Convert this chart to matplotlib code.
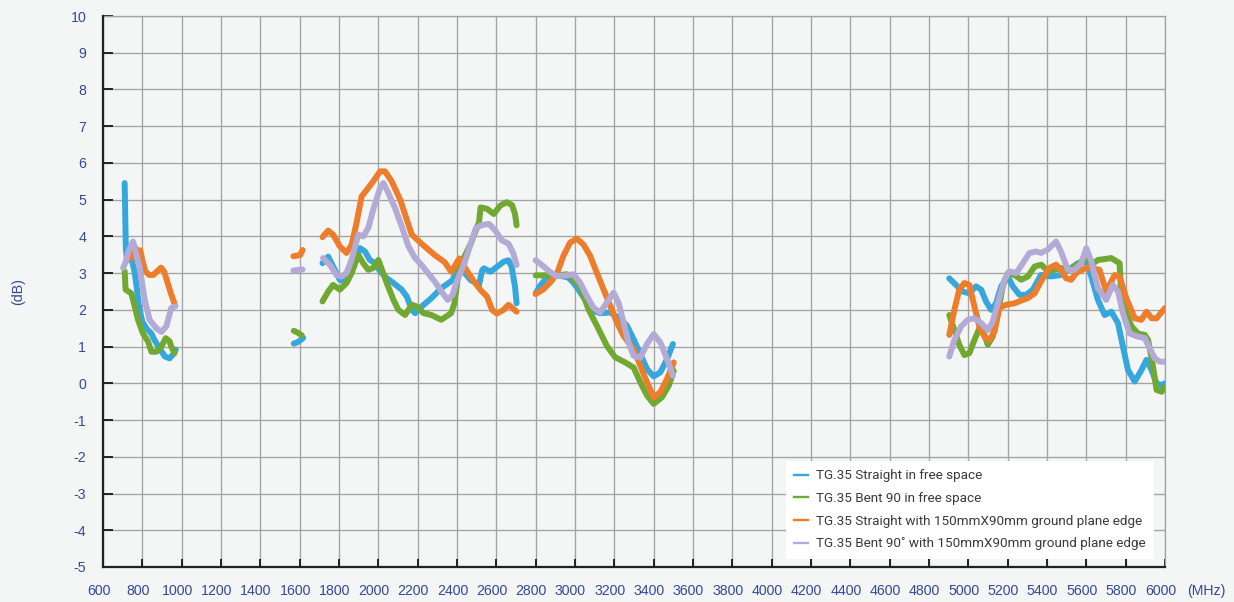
import numpy as np
import matplotlib
matplotlib.use("Agg")
import matplotlib.pyplot as plt
from matplotlib.transforms import ScaledTranslation

plt.rcParams["axes.unicode_minus"] = False
N = np.nan

# ---- data (MHz, dB); NaN separates measurement bands ----
blue_x = [710, 713, 716, 722, 732, 745, 760, 772, 784, 800, 820, 845, 865, 882, 900, 915, 938, 958, 970, N,
          1570, 1590, 1605, 1618, N,
          1716, 1745, 1770, 1804, 1830, 1855, 1881, 1906, 1932, 1957, 1983, 2009, 2043, 2077, 2119, 2145, 2170, 2187,
          2220, 2270, 2320, 2378, 2395, 2420, 2470, 2512, 2528, 2537, 2570, 2603, 2637, 2662, 2678, 2695, 2703, N,
          2800, 2822, 2856, 2890, 2932, 2966, 2990, 3017, 3060, 3094, 3128, 3179, 3221, 3264, 3298, 3332, 3366, 3400,
          3434, 3468, 3498, N,
          4903, 4937, 4971, 5005, 5039, 5065, 5090, 5116, 5141, 5167, 5201, 5226, 5260, 5294, 5328, 5369, 5420, 5471,
          5523, 5557, 5600, 5625, 5659, 5693, 5727, 5761, 5786, 5812, 5846, 5880, 5906, 5932, 5957, 5980, 6000]
blue_y = [5.45, 4.6, 3.7, 3.35, 3.5, 3.4, 3.05, 2.6, 2.05, 1.68, 1.5, 1.36, 1.15, 1.0, 0.85, 0.73, 0.68, 0.8, 0.92, N,
          1.08, 1.12, 1.18, 1.24, N,
          3.27, 3.45, 3.18, 2.82, 2.77, 2.95, 3.36, 3.68, 3.59, 3.36, 3.27, 3.05, 2.86, 2.73, 2.55, 2.36, 2.0, 1.91,
          2.09, 2.32, 2.59, 2.81, 3.04, 3.13, 2.81, 2.68, 3.08, 3.13, 3.04, 3.17, 3.31, 3.35, 3.17, 2.63, 2.18, N,
          2.45, 2.65, 2.88, 2.97, 2.92, 2.88, 2.75, 2.56, 2.2, 1.97, 1.91, 1.93, 1.79, 1.57, 1.2, 0.8, 0.39, 0.19,
          0.3, 0.66, 1.07, N,
          2.86, 2.68, 2.5, 2.45, 2.64, 2.55, 2.23, 2.0, 2.18, 2.64, 2.91, 2.64, 2.41, 2.41, 2.55, 2.95, 2.91, 2.95,
          3.14, 3.27, 3.32, 2.91, 2.27, 1.86, 1.95, 1.64, 1.0, 0.36, 0.05, 0.36, 0.64, 0.36, 0.0, -0.05, 0.0]

green_x = [710, 715, 744, 761, 778, 803, 829, 846, 871, 897, 919, 939, 947, 964, N,
           1570, 1590, 1610, N,
           1716, 1745, 1770, 1804, 1838, 1864, 1898, 1923, 1949, 1974, 2000, 2043, 2077, 2102, 2136, 2170, 2196, 2230,
           2270, 2320, 2370, 2387, 2412, 2470, 2512, 2520, 2553, 2587, 2620, 2653, 2680, 2695, 2703, N,
           2800, 2848, 2916, 2958, 3000, 3026, 3068, 3111, 3162, 3204, 3255, 3298, 3332, 3366, 3400, 3442, 3477, 3502, N,
           4903, 4929, 4954, 4980, 5005, 5031, 5056, 5082, 5099, 5124, 5150, 5175, 5201, 5235, 5269, 5303, 5337, 5371,
           5405, 5439, 5473, 5507, 5541, 5575, 5600, 5626, 5659, 5690, 5727, 5769, 5778, 5804, 5830, 5864, 5897, 5914,
           5935, 5957, 5983, 6000]
green_y = [3.05, 2.55, 2.45, 2.1, 1.73, 1.36, 1.14, 0.86, 0.86, 1.0, 1.23, 1.14, 1.0, 0.82, N,
           1.43, 1.38, 1.31, N,
           2.23, 2.5, 2.68, 2.55, 2.73, 3.0, 3.5, 3.27, 3.09, 3.14, 3.36, 2.73, 2.27, 2.0, 1.86, 2.14, 2.09, 1.91,
           1.86, 1.73, 1.91, 2.18, 3.17, 3.8, 4.39, 4.79, 4.75, 4.61, 4.84, 4.93, 4.85, 4.61, 4.3, N,
           2.94, 2.94, 2.94, 2.97, 2.79, 2.65, 2.02, 1.57, 1.02, 0.71, 0.57, 0.43, 0.03, -0.33, -0.56, -0.38, -0.06, 0.34, N,
           1.86, 1.45, 1.05, 0.77, 0.82, 1.18, 1.5, 1.32, 1.05, 1.27, 1.91, 2.64, 3.0, 2.95, 2.82, 2.91, 3.18, 3.23,
           3.05, 3.09, 3.14, 3.09, 3.18, 3.32, 3.45, 3.23, 3.36, 3.38, 3.41, 3.27, 2.36, 1.9, 1.55, 1.35, 1.32, 1.18,
           0.6, -0.18, -0.23, -0.1]

orange_x = [740, 750, 760, 775, 790, 800, 815, 835, 855, 875, 895, 910, 925, 945, 965, N,
            1568, 1590, 1602, 1615, N,
            1716, 1745, 1770, 1804, 1838, 1864, 1889, 1915, 1949, 1974, 2009, 2034, 2068, 2111, 2145, 2170, 2220, 2287,
            2337, 2370, 2387, 2400, 2412, 2453, 2487, 2520, 2553, 2578, 2603, 2637, 2662, 2703, N,
            2800, 2839, 2873, 2907, 2941, 2975, 3009, 3043, 3077, 3111, 3145, 3179, 3213, 3247, 3298, 3332, 3366, 3400,
            3434, 3468, 3502, N,
            4903, 4929, 4954, 4980, 5005, 5031, 5056, 5082, 5107, 5133, 5158, 5192, 5235, 5277, 5303, 5337, 5369, 5412,
            5446, 5471, 5497, 5523, 5548, 5600, 5640, 5667, 5701, 5744, 5769, 5803, 5846, 5880, 5906, 5932, 5957, 6000]
orange_y = [3.4, 3.6, 3.72, 3.6, 3.62, 3.35, 3.05, 2.95, 2.95, 3.05, 3.15, 3.05, 2.8, 2.45, 2.15, N,
            3.46, 3.48, 3.49, 3.63, N,
            3.98, 4.16, 4.05, 3.73, 3.55, 3.77, 4.36, 5.09, 5.32, 5.5, 5.77, 5.77, 5.5, 5.0, 4.45, 4.05, 3.8, 3.49,
            3.3, 3.04, 3.17, 3.3, 3.4, 3.04, 2.77, 2.54, 2.36, 2.0, 1.9, 2.0, 2.14, 1.95, N,
            2.43, 2.56, 2.74, 2.97, 3.47, 3.83, 3.94, 3.78, 3.47, 3.01, 2.56, 2.11, 1.66, 1.29, 0.93, 0.48, 0.03, -0.38,
            -0.24, 0.12, 0.57, N,
            1.32, 2.0, 2.55, 2.73, 2.68, 2.09, 1.55, 1.27, 1.18, 1.41, 2.05, 2.14, 2.18, 2.27, 2.32, 2.45, 2.77, 3.14,
            3.23, 3.09, 2.86, 2.82, 3.0, 3.15, 3.12, 3.09, 2.5, 2.95, 2.9, 2.32, 1.77, 1.73, 1.95, 1.77, 1.77, 2.05]

lav_x = [702, 715, 730, 753, 770, 786, 812, 837, 871, 897, 922, 947, 969, N,
         1568, 1615, N,
         1719, 1753, 1787, 1813, 1838, 1864, 1898, 1923, 1949, 1974, 2009, 2026, 2051, 2085, 2119, 2153, 2187, 2220,
         2287, 2328, 2353, 2378, 2395, 2437, 2470, 2495, 2520, 2562, 2595, 2628, 2662, 2687, 2703, N,
         2800, 2839, 2873, 2907, 2958, 2992, 3026, 3060, 3094, 3128, 3162, 3196, 3221, 3247, 3272, 3298, 3332, 3366,
         3400, 3434, 3468, 3498, N,
         4903, 4929, 4963, 4997, 5031, 5065, 5099, 5124, 5150, 5184, 5209, 5243, 5277, 5311, 5345, 5369, 5404, 5446,
         5471, 5506, 5540, 5574, 5600, 5625, 5659, 5701, 5735, 5761, 5786, 5820, 5863, 5897, 5923, 5948, 5974, 6000]
lav_y = [3.14, 3.3, 3.6, 3.86, 3.5, 3.18, 2.27, 1.73, 1.5, 1.4, 1.55, 2.05, 2.1, N,
         3.07, 3.1, N,
         3.41, 3.23, 2.95, 2.91, 3.0, 3.36, 4.05, 4.0, 4.23, 4.73, 5.32, 5.45, 5.18, 4.77, 4.27, 3.73, 3.41, 3.22,
         2.77, 2.45, 2.27, 2.41, 2.72, 3.26, 3.8, 4.21, 4.3, 4.34, 4.16, 3.89, 3.8, 3.53, 3.22, N,
         3.35, 3.19, 3.03, 2.92, 2.94, 2.97, 2.74, 2.38, 2.06, 1.93, 2.2, 2.47, 2.2, 1.66, 1.11, 0.75, 0.7, 1.07,
         1.34, 1.11, 0.66, 0.21, N,
         0.73, 1.18, 1.55, 1.73, 1.77, 1.64, 1.45, 1.68, 2.18, 2.82, 3.05, 3.0, 3.27, 3.55, 3.59, 3.55, 3.64, 3.86,
         3.59, 3.09, 3.09, 3.27, 3.68, 3.32, 2.59, 2.27, 2.68, 2.5, 1.91, 1.36, 1.27, 1.23, 0.95, 0.68, 0.59, 0.59]

labels = ["TG.35 Straight in free space",
          "TG.35 Bent 90 in free space",
          "TG.35 Straight with 150mmX90mm ground plane edge",
          "TG.35 Bent 90\u02da with 150mmX90mm ground plane edge"]
colors = ["#36a7dc", "#70a832", "#ee7d2b", "#b3abd6"]
x_ticks = list(range(600, 6001, 200))
y_ticks = list(range(-5, 11))

# ---- figure ----
BG = "#f4f6f6"
TXT = "#34489a"
fig = plt.figure(figsize=(12.34, 6.02), dpi=100, facecolor=BG)
ax = fig.add_axes([103 / 1234, 35 / 602, 1062 / 1234, 551 / 602], facecolor=BG)

series = [(blue_x, blue_y), (green_x, green_y), (orange_x, orange_y), (lav_x, lav_y)]
for (xs, ys), c, lab in zip(series, colors, labels):
    ax.plot(xs, ys, color=c, lw=4.3, solid_capstyle="round", solid_joinstyle="round", zorder=3)
    ax.plot([], [], color=c, lw=1.7, label=lab)

ax.set_xlim(600, 6000)
ax.set_ylim(-5, 10)
ax.set_xticks(x_ticks)
ax.set_yticks(y_ticks)
ax.grid(True, color="#a3a3a3", lw=0.95, zorder=1)
ax.set_axisbelow(True)

for s in ["left", "bottom"]:
    ax.spines[s].set_color("#222222")
    ax.spines[s].set_linewidth(1.6)
    ax.spines[s].set_zorder(4)
for s in ["top", "right"]:
    ax.spines[s].set_color("#a3a3a3")
    ax.spines[s].set_linewidth(0.95)

ax.tick_params(axis="y", direction="in", length=7, width=1.4, color="#222222",
               labelsize=10.2, labelcolor=TXT, pad=12)
ax.tick_params(axis="x", direction="in", length=5.5, width=1.4, color="#222222",
               labelsize=10.2, labelcolor=TXT, pad=12)
for t in ax.get_xticklabels() + ax.get_yticklabels():
    t.set_fontfamily("Liberation Sans")
off = ScaledTranslation(-4.5 / 100, 0, fig.dpi_scale_trans)
for t in ax.get_xticklabels():
    t.set_transform(t.get_transform() + off)

fig.text(18 / 1234, 1 - 292 / 602, "(dB)", rotation=90, ha="center", va="center",
         fontsize=10.2, color=TXT, family="Liberation Sans")
fig.text(1206 / 1234, 1 - 591 / 602, "(MHz)", ha="center", va="center",
         fontsize=10.2, color=TXT, family="Liberation Sans")

leg = ax.legend(loc="upper left", bbox_to_anchor=((786 - 103) / 1062, (567 - 461) / 551),
                frameon=True, fancybox=False, framealpha=1, facecolor="white", edgecolor="none",
                handlelength=1.0, handletextpad=0.6, borderpad=0.62, labelspacing=0.72,
                borderaxespad=0, prop={"family": "Roboto", "size": 9.7})
for t in leg.get_texts():
    t.set_color("#3a3a3a")
leg.set_zorder(5)

fig.savefig("out.png", dpi=100, facecolor=BG)
